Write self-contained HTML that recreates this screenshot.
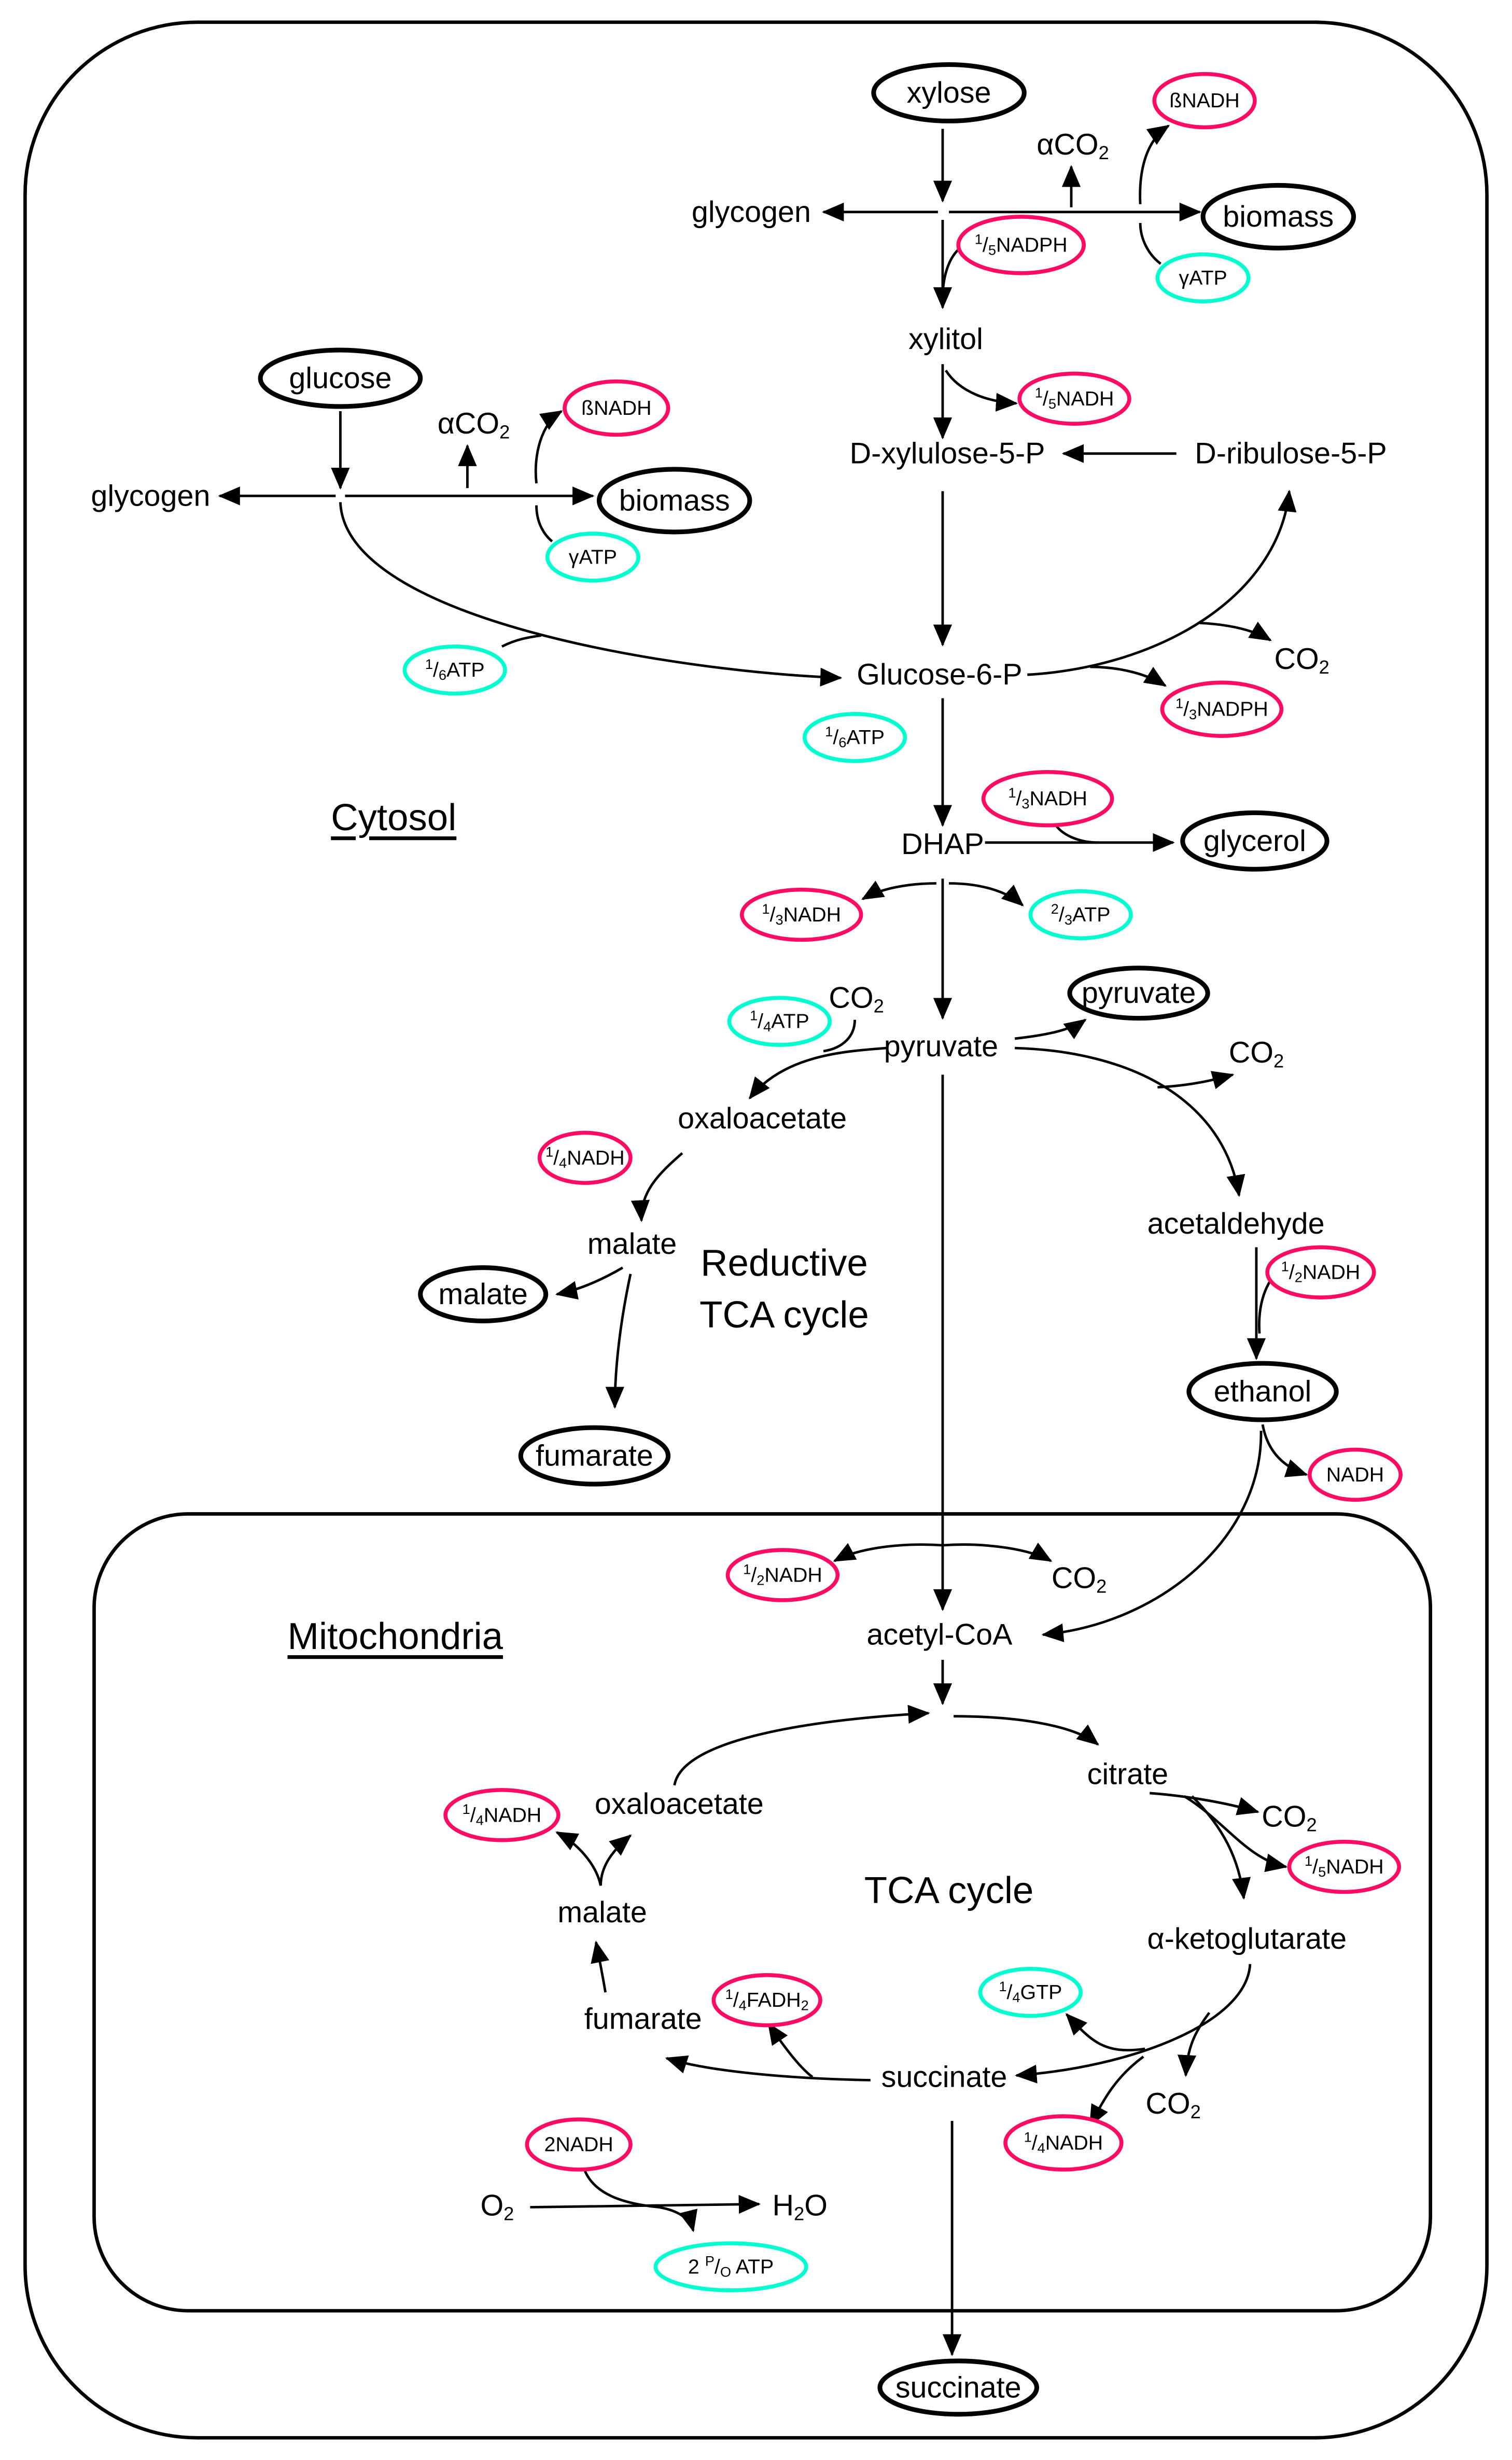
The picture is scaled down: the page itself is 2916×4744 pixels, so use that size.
<!DOCTYPE html>
<html><head><meta charset="utf-8">
<style>
html,body{margin:0;padding:0;background:#fff;}
svg{display:block;}
text{font-family:"Liberation Sans Narrow","Liberation Sans",sans-serif;fill:#000;text-anchor:middle;dominant-baseline:central;}
.t{font-size:19px;}
.s{font-size:13px;}
.b{font-size:24px;}
.k{fill:none;stroke:#000;stroke-width:1.6;}
.e{fill:#fff;stroke:#000;stroke-width:3;}
.p{fill:#fff;stroke:#ff0a64;stroke-width:2.5;}
.c{fill:#fff;stroke:#00ffd0;stroke-width:2.5;}
.m{fill:none;stroke:#000;stroke-width:1.6;marker-end:url(#A);}
</style></head><body>
<svg width="2916" height="4744" viewBox="0 0 964 1568" xmlns="http://www.w3.org/2000/svg">
<defs>
<marker id="A" markerWidth="14" markerHeight="12" refX="13" refY="6" orient="auto" markerUnits="userSpaceOnUse" viewBox="0 0 14 12">
<path d="M0,0 L14,6 L0,12 z" fill="#000"/></marker>
</defs>
<rect x="16" y="14" width="932" height="1540" rx="110" fill="none" stroke="#000" stroke-width="2.2"/>
<rect x="60" y="965" width="852" height="508" rx="60" fill="none" stroke="#000" stroke-width="2.2"/>

<!-- ===== xylose section ===== -->
<ellipse class="e" cx="605" cy="59" rx="48" ry="18"/><text class="t" x="605" y="59">xylose</text>
<path class="m" d="M601,82 L601,128"/>
<path class="m" d="M598,135 L525,135"/>
<path class="m" d="M605,135 L765,135"/>
<text class="t" x="479" y="135">glycogen</text>
<path class="m" d="M683,132 L683,106"/>
<text class="t" x="684" y="92">αCO<tspan font-size="12" dy="5">2</tspan></text>
<path class="m" d="M727,130 C726,110 730,90 745,80"/>
<ellipse class="p" cx="768" cy="64" rx="32" ry="17"/><text class="s" x="768" y="64">ßNADH</text>
<ellipse class="e" cx="815" cy="138" rx="48" ry="20"/><text class="t" x="815" y="138">biomass</text>
<path class="k" d="M727,142 C727,152 732,162 740,168"/>
<ellipse class="c" cx="767" cy="177" rx="29" ry="15"/><text class="s" x="767" y="177">γATP</text>
<path class="m" d="M601,140 L601,196"/>
<path class="k" d="M612,158 C604,165 601,178 601,190"/>
<ellipse class="p" cx="651" cy="156" rx="40" ry="18"/><text class="s" x="651" y="156"><tspan font-size="9" dy="-4">1</tspan><tspan dy="4">/</tspan><tspan font-size="9" dy="3">5</tspan><tspan dy="-3">NADPH</tspan></text>
<text class="t" x="603" y="216">xylitol</text>
<path class="m" d="M601,232 L601,279"/>
<path class="m" d="M603,236 C612,250 630,256 648,257"/>
<ellipse class="p" cx="685" cy="254" rx="35" ry="16"/><text class="s" x="685" y="254"><tspan font-size="9" dy="-4">1</tspan><tspan dy="4">/</tspan><tspan font-size="9" dy="3">5</tspan><tspan dy="-3">NADH</tspan></text>
<text class="t" x="604" y="289">D-xylulose-5-P</text>
<text class="t" x="823" y="289">D-ribulose-5-P</text>
<path class="m" d="M750,289 L678,289"/>
<path class="m" d="M601,313 L601,411"/>

<!-- ===== glucose section ===== -->
<ellipse class="e" cx="217" cy="241" rx="51" ry="18"/><text class="t" x="217" y="241">glucose</text>
<path class="m" d="M217,262 L217,311"/>
<path class="m" d="M214,316 L140,316"/>
<path class="m" d="M220,316 L378,316"/>
<text class="t" x="96" y="316">glycogen</text>
<ellipse class="e" cx="430" cy="319" rx="48" ry="20"/><text class="t" x="430" y="319">biomass</text>
<path class="m" d="M298,311 L298,284"/>
<text class="t" x="302" y="270">αCO<tspan font-size="12" dy="5">2</tspan></text>
<path class="m" d="M342,308 C340,290 345,270 358,262"/>
<ellipse class="p" cx="393" cy="260" rx="33" ry="17"/><text class="s" x="393" y="260">ßNADH</text>
<path class="k" d="M342,322 C342,332 346,340 352,345"/>
<ellipse class="c" cx="378" cy="355" rx="29" ry="15"/><text class="s" x="378" y="355">γATP</text>
<path class="m" d="M217,320 C220,395 430,428 536,432"/>
<path class="k" d="M320,412 C330,407 338,406 345,405"/>
<ellipse class="c" cx="290" cy="427" rx="32" ry="15"/><text class="s" x="290" y="427"><tspan font-size="9" dy="-4">1</tspan><tspan dy="4">/</tspan><tspan font-size="9" dy="3">6</tspan><tspan dy="-3">ATP</tspan></text>

<!-- ===== Glucose-6-P ===== -->
<text class="t" x="599" y="430">Glucose-6-P</text>
<path class="m" d="M655,430 C740,425 815,380 822,313"/>
<path class="m" d="M765,397 C785,398 800,402 810,408"/>
<text class="t" x="830" y="420">CO<tspan font-size="12" dy="5">2</tspan></text>
<path class="m" d="M695,425 C715,425 732,430 743,437"/>
<ellipse class="p" cx="779" cy="452" rx="38" ry="17"/><text class="s" x="779" y="452"><tspan font-size="9" dy="-4">1</tspan><tspan dy="4">/</tspan><tspan font-size="9" dy="3">3</tspan><tspan dy="-3">NADPH</tspan></text>
<path class="m" d="M601,445 L601,526"/>
<ellipse class="c" cx="545" cy="470" rx="32" ry="15"/><text class="s" x="545" y="470"><tspan font-size="9" dy="-4">1</tspan><tspan dy="4">/</tspan><tspan font-size="9" dy="3">6</tspan><tspan dy="-3">ATP</tspan></text>
<text class="b" x="251" y="521" style="text-decoration:underline">Cytosol</text>

<!-- ===== DHAP ===== -->
<text class="t" x="601" y="538">DHAP</text>
<path class="m" d="M628,537 L748,537"/>
<ellipse class="e" cx="800" cy="536" rx="46" ry="18"/><text class="t" x="800" y="536">glycerol</text>
<path class="k" d="M672,524 C676,532 688,537 700,537"/>
<ellipse class="p" cx="668" cy="509" rx="41" ry="17"/><text class="s" x="668" y="509"><tspan font-size="9" dy="-4">1</tspan><tspan dy="4">/</tspan><tspan font-size="9" dy="3">3</tspan><tspan dy="-3">NADH</tspan></text>
<path class="m" d="M597,563 C580,563 562,566 550,573"/>
<path class="m" d="M605,563 C625,563 642,568 652,577"/>
<ellipse class="p" cx="511" cy="583" rx="38" ry="16"/><text class="s" x="511" y="583"><tspan font-size="9" dy="-4">1</tspan><tspan dy="4">/</tspan><tspan font-size="9" dy="3">3</tspan><tspan dy="-3">NADH</tspan></text>
<ellipse class="c" cx="689" cy="583" rx="32" ry="15"/><text class="s" x="689" y="583"><tspan font-size="9" dy="-4">2</tspan><tspan dy="4">/</tspan><tspan font-size="9" dy="3">3</tspan><tspan dy="-3">ATP</tspan></text>
<path class="m" d="M601,560 L601,649"/>

<!-- ===== pyruvate ===== -->
<text class="t" x="600" y="667">pyruvate</text>
<path class="m" d="M647,662 C665,660 682,657 692,650"/>
<ellipse class="e" cx="726" cy="633" rx="44" ry="16"/><text class="t" x="726" y="633">pyruvate</text>
<path class="m" d="M647,668 C720,670 780,700 790,762"/>
<path class="m" d="M738,693 C760,692 775,688 786,685"/>
<text class="t" x="801" y="671">CO<tspan font-size="12" dy="5">2</tspan></text>
<text class="t" x="788" y="780">acetaldehyde</text>
<path class="m" d="M801,795 L801,866"/>
<path class="k" d="M815,810 C805,820 802,835 803,850"/>
<ellipse class="p" cx="842" cy="811" rx="34" ry="16"/><text class="s" x="842" y="811"><tspan font-size="9" dy="-4">1</tspan><tspan dy="4">/</tspan><tspan font-size="9" dy="3">2</tspan><tspan dy="-3">NADH</tspan></text>
<ellipse class="e" cx="805" cy="887" rx="47" ry="18"/><text class="t" x="805" y="887">ethanol</text>
<path class="m" d="M805,908 C808,925 818,935 833,940"/>
<ellipse class="p" cx="864" cy="940" rx="29" ry="16"/><text class="s" x="864" y="940">NADH</text>
<path class="m" d="M804,912 C805,980 740,1035 665,1042"/>
<path class="m" d="M601,685 L601,1026"/>

<!-- reductive TCA -->
<path class="m" d="M565,668 C540,670 500,672 478,700"/>
<path class="k" d="M545,650 C545,660 538,668 525,670"/>
<text class="t" x="546" y="636">CO<tspan font-size="12" dy="5">2</tspan></text>
<ellipse class="c" cx="497" cy="651" rx="32" ry="15"/><text class="s" x="497" y="651"><tspan font-size="9" dy="-4">1</tspan><tspan dy="4">/</tspan><tspan font-size="9" dy="3">4</tspan><tspan dy="-3">ATP</tspan></text>
<text class="t" x="486" y="713">oxaloacetate</text>
<path class="m" d="M435,735 C420,748 408,760 409,778"/>
<ellipse class="p" cx="373" cy="738" rx="29" ry="16"/><text class="s" x="373" y="738"><tspan font-size="9" dy="-4">1</tspan><tspan dy="4">/</tspan><tspan font-size="9" dy="3">4</tspan><tspan dy="-3">NADH</tspan></text>
<text class="t" x="403" y="793">malate</text>
<path class="m" d="M397,808 C385,815 370,822 355,825"/>
<ellipse class="e" cx="308" cy="825" rx="40" ry="17"/><text class="t" x="308" y="825">malate</text>
<path class="m" d="M402,812 C396,840 392,870 392,897"/>
<ellipse class="e" cx="379" cy="928" rx="47" ry="18"/><text class="t" x="379" y="928">fumarate</text>
<text class="b" x="500" y="805">Reductive</text>
<text class="b" x="500" y="838">TCA cycle</text>

<!-- ===== Mitochondria ===== -->
<text class="b" x="252" y="1043" style="text-decoration:underline">Mitochondria</text>
<path class="m" d="M601,985 C570,983 545,988 532,995"/>
<path class="m" d="M601,985 C630,983 658,988 670,995"/>
<ellipse class="p" cx="499" cy="1004" rx="35" ry="16"/><text class="s" x="499" y="1004"><tspan font-size="9" dy="-4">1</tspan><tspan dy="4">/</tspan><tspan font-size="9" dy="3">2</tspan><tspan dy="-3">NADH</tspan></text>
<text class="t" x="688" y="1006">CO<tspan font-size="12" dy="5">2</tspan></text>
<text class="t" x="599" y="1042">acetyl-CoA</text>
<path class="m" d="M601,1058 L601,1086"/>

<path class="m" d="M430,1138 C435,1108 520,1096 592,1092"/>
<path class="m" d="M608,1094 C650,1094 685,1100 700,1112"/>
<text class="t" x="719" y="1131">citrate</text>
<path class="m" d="M733,1143 C760,1145 785,1150 802,1155"/>
<text class="t" x="822" y="1158">CO<tspan font-size="12" dy="5">2</tspan></text>
<path class="m" d="M755,1145 C780,1160 795,1185 820,1190"/>
<path class="m" d="M760,1145 C780,1165 790,1185 793,1210"/>
<ellipse class="p" cx="857" cy="1190" rx="35" ry="16"/><text class="s" x="857" y="1190"><tspan font-size="9" dy="-4">1</tspan><tspan dy="4">/</tspan><tspan font-size="9" dy="3">5</tspan><tspan dy="-3">NADH</tspan></text>
<text class="t" x="795" y="1236">α-ketoglutarate</text>
<path class="m" d="M797,1252 C795,1290 720,1318 648,1323"/>
<path class="m" d="M771,1283 C762,1295 757,1305 756,1323"/>
<text class="t" x="748" y="1341">CO<tspan font-size="12" dy="5">2</tspan></text>
<path class="m" d="M730,1306 C703,1310 695,1300 680,1284"/>
<path class="m" d="M729,1311 C710,1325 703,1340 695,1355"/>
<ellipse class="c" cx="657" cy="1270" rx="32" ry="15"/><text class="s" x="657" y="1270"><tspan font-size="9" dy="-4">1</tspan><tspan dy="4">/</tspan><tspan font-size="9" dy="3">4</tspan><tspan dy="-3">GTP</tspan></text>
<ellipse class="p" cx="678" cy="1366" rx="37" ry="17"/><text class="s" x="678" y="1366"><tspan font-size="9" dy="-4">1</tspan><tspan dy="4">/</tspan><tspan font-size="9" dy="3">4</tspan><tspan dy="-3">NADH</tspan></text>
<text class="t" x="602" y="1324">succinate</text>
<path class="m" d="M555,1326 C500,1325 450,1320 425,1312"/>
<path class="m" d="M518,1324 C510,1318 500,1305 490,1290"/>
<ellipse class="p" cx="489" cy="1275" rx="34" ry="16"/><text class="s" x="489" y="1275"><tspan font-size="9" dy="-4">1</tspan><tspan dy="4">/</tspan><tspan font-size="9" dy="3">4</tspan><tspan dy="-3">FADH</tspan><tspan font-size="9" dy="3">2</tspan></text>
<text class="t" x="410" y="1287">fumarate</text>
<path class="m" d="M386,1270 C384,1258 382,1248 380,1238"/>
<text class="t" x="384" y="1219">malate</text>
<path class="m" d="M383,1202 C383,1190 390,1180 402,1170"/>
<path class="m" d="M383,1202 C380,1188 368,1175 355,1168"/>
<ellipse class="p" cx="320" cy="1157" rx="36" ry="16"/><text class="s" x="320" y="1157"><tspan font-size="9" dy="-4">1</tspan><tspan dy="4">/</tspan><tspan font-size="9" dy="3">4</tspan><tspan dy="-3">NADH</tspan></text>
<text class="t" x="433" y="1150">oxaloacetate</text>
<text class="b" x="605" y="1205">TCA cycle</text>

<path class="m" d="M607,1352 L607,1501"/>
<ellipse class="e" cx="611" cy="1522" rx="50" ry="17"/><text class="t" x="611" y="1522">succinate</text>

<ellipse class="p" cx="369" cy="1367" rx="33" ry="16"/><text class="s" x="369" y="1367">2NADH</text>
<text class="t" x="317" y="1406">O<tspan font-size="12" dy="5">2</tspan></text>
<path class="m" d="M338,1407 L484,1405"/>
<text class="t" x="510" y="1406">H<tspan font-size="12" dy="5">2</tspan><tspan dy="-5">O</tspan></text>
<path class="m" d="M373,1384 C380,1400 400,1405 420,1407 C432,1409 440,1414 442,1422"/>
<ellipse class="c" cx="466" cy="1445" rx="48" ry="15"/><text class="s" x="466" y="1445">2 <tspan font-size="9" dy="-4">P</tspan><tspan dy="4">/</tspan><tspan font-size="9" dy="3">O</tspan><tspan dy="-3"> ATP</tspan></text>
</svg>
</body></html>
